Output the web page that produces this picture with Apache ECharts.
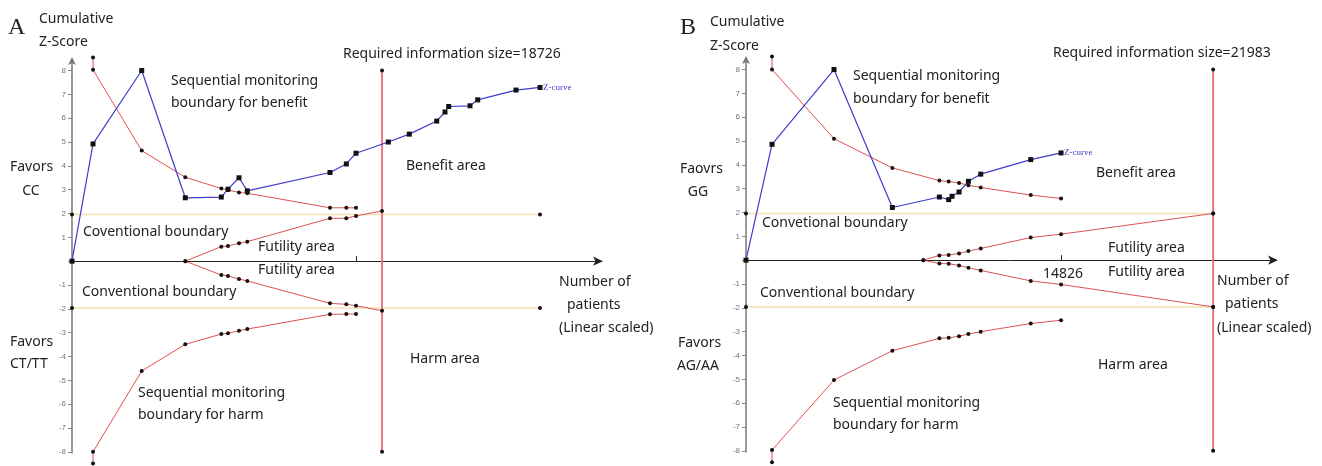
<!DOCTYPE html>
<html>
<head>
<meta charset="utf-8">
<script src="https://cdn.jsdelivr.net/npm/echarts@6/dist/echarts.min.js"></script>
<style>
  html, body { margin: 0; padding: 0; background: #fff; }
  #chart { width: 1322px; height: 466px; }
</style>
</head>
<body>
<div id="chart"></div>
<script>
// ---- panel A (CC vs CT/TT), x = number of patients, y = cumulative Z ----
var risA = 18726;
var zCurveA = [[0, 0], [1270, 4.92], [4210, 8.0], [6843, 2.66], [9018, 2.69], [9422, 3.02], [10087, 3.5], [10588, 2.95],
  [15583, 3.72], [16568, 4.08], [17154, 4.53], [19105, 5.0], [20373, 5.33], [22028, 5.88], [22529, 6.26], [22752, 6.49],
  [24039, 6.52], [24504, 6.77], [26818, 7.18], [28267, 7.29]];
var benefitA = [[1270, 8.55], [1270, 8.03], [4210, 4.64], [6843, 3.52], [9018, 3.05], [9422, 2.99], [10087, 2.88],
  [10588, 2.85], [15583, 2.24], [16568, 2.24], [17154, 2.24]];
var harmA = [[1270, -8.49], [1270, -8.0], [4210, -4.61], [6843, -3.49], [9018, -3.06], [9422, -3.03], [10087, -2.92],
  [10588, -2.85], [15583, -2.23], [16568, -2.22], [17154, -2.22]];
var futUpA = [[6843, 0], [9018, 0.61], [9422, 0.64], [10087, 0.75], [10588, 0.82], [15583, 1.80], [16568, 1.80],
  [17154, 1.90], [18726, 2.11]];
var futLowA = [[6843, 0], [9018, -0.58], [9422, -0.62], [10087, -0.75], [10588, -0.83], [15583, -1.77], [16568, -1.81],
  [17154, -1.87], [18726, -2.08]];
var convUpA = [[0, 1.96], [28267, 1.96]];
var convLowA = [[0, -1.96], [28267, -1.96]];
var tickA = [17154];

// ---- panel B (GG vs AG/AA) ----
var risB = 21983;
var zCurveB = [[0, 0], [1224, 4.86], [4142, 8.0], [6888, 2.21], [9100, 2.65], [9539, 2.54], [9696, 2.68], [10026, 2.86],
  [10466, 3.31], [11046, 3.61], [13400, 4.22], [14826, 4.5]];
var benefitB = [[1224, 8.55], [1224, 8.0], [4142, 5.1], [6888, 3.87], [9100, 3.34], [9539, 3.30], [10026, 3.24],
  [10466, 3.14], [11046, 3.05], [13400, 2.73], [14826, 2.59]];
var harmB = [[1224, -8.48], [1224, -7.97], [4142, -5.03], [6888, -3.80], [9100, -3.28], [9539, -3.26], [10026, -3.19],
  [10466, -3.10], [11046, -3.0], [13400, -2.66], [14826, -2.52]];
var futUpB = [[8347, 0], [9100, 0.2], [9539, 0.22], [10026, 0.28], [10466, 0.38], [11046, 0.49], [13400, 0.95],
  [14826, 1.09], [21983, 1.96]];
var futLowB = [[8347, 0], [9100, -0.14], [9539, -0.15], [10026, -0.22], [10466, -0.32], [11046, -0.43], [13400, -0.87],
  [14826, -1.02], [21983, -1.96]];
var convUpB = [[0, 1.96], [21983, 1.96]];
var convLowB = [[0, -1.96], [21983, -1.96]];
var tickB = [14826];

var yTicks = [-8, -7, -6, -5, -4, -3, -2, -1, 0, 1, 2, 3, 4, 5, 6, 7, 8];
var yMin = -8.05, yMax = 8.4;

var RED = "#e0504f";
var BLUE = "#3d3dcc";
var RIS_RED = "#ea6a7c";
var CONV = "#f6dfb2";
var FONT = "Noto Sans";

function yAxisOpt(idx) {
  return {
    type: "value",
    gridIndex: idx,
    min: yMin,
    max: yMax,
    splitLine: { show: false },
    axisLine: {
      show: true,
      onZero: false,
      symbol: ["none", "arrow"],
      symbolSize: [6, 8],
      symbolOffset: [0, 4],
      lineStyle: { color: "#777", width: 1.5 }
    },
    axisTick: { show: true, customValues: yTicks, length: 4, lineStyle: { color: "#888" } },
    axisLabel: {
      customValues: yTicks,
      fontSize: 8,
      color: "#777",
      margin: 6,
      formatter: function (v) { return v === 0 ? "" : String(v); }
    }
  };
}

// x axis sits on Z = 0: shift it up from the grid bottom by the height of the negative part
function xAxisOpt(idx, max, ticks, gridH) {
  return {
    type: "value",
    gridIndex: idx,
    min: 0,
    max: max,
    position: "bottom",
    offset: -gridH * (0 - yMin) / (yMax - yMin),
    splitLine: { show: false },
    axisLine: {
      show: true,
      onZero: false,
      symbol: ["none", "arrow"],
      symbolSize: [7, 10],
      symbolOffset: [0, 5],
      lineStyle: { color: "#222", width: 1 }
    },
    axisTick: { show: true, inside: true, length: 5, customValues: ticks, lineStyle: { color: "#222" } },
    axisLabel: { show: false }
  };
}

function redLine(data, idx) {
  return {
    type: "line", xAxisIndex: idx, yAxisIndex: idx, data: data, clip: false,
    symbol: "circle", symbolSize: 4, showSymbol: true,
    itemStyle: { color: "#111" },
    lineStyle: { color: RED, width: 1 },
    animation: false, z: 3
  };
}
function zLine(data, idx) {
  return {
    type: "line", xAxisIndex: idx, yAxisIndex: idx, data: data, clip: false,
    symbol: "rect", symbolSize: 5, showSymbol: true,
    itemStyle: { color: "#111" },
    lineStyle: { color: BLUE, width: 1.2 },
    animation: false, z: 4
  };
}
function convLine(data, idx) {
  return {
    type: "line", xAxisIndex: idx, yAxisIndex: idx, data: data, clip: false,
    symbol: "circle", symbolSize: 4,
    itemStyle: { color: "#111" },
    lineStyle: { color: CONV, width: 1.5 },
    animation: false, z: 2
  };
}
function risLine(x, idx) {
  return {
    type: "line", xAxisIndex: idx, yAxisIndex: idx, data: [[x, 8], [x, -8]], clip: false,
    symbol: "circle", symbolSize: 4,
    itemStyle: { color: "#111" },
    lineStyle: { color: RIS_RED, width: 1.8 },
    animation: false, z: 2
  };
}

function txt(s, x, y, o) {
  o = o || {};
  return {
    type: "text", x: x, y: y, z: 10,
    style: {
      text: s,
      fill: o.fill || "#222",
      font: o.font || ("14px '" + FONT + "'"),
      textAlign: o.align || "left",
      verticalAlign: "middle"
    }
  };
}

var chart = echarts.init(document.getElementById("chart"));
chart.setOption({
  backgroundColor: "#fff",
  animation: false,
  grid: [
    { left: 72, right: 724, top: 61, bottom: 13, containLabel: false },
    { left: 746, right: 49, top: 60, bottom: 14, containLabel: false }
  ],
  xAxis: [xAxisOpt(0, 31770, tickA, 466 - 61 - 13), xAxisOpt(1, 24800, tickB, 466 - 60 - 14)],
  yAxis: [yAxisOpt(0), yAxisOpt(1)],
  series: [
    convLine(convUpA, 0), convLine(convLowA, 0), risLine(risA, 0),
    redLine(benefitA, 0), redLine(harmA, 0), redLine(futUpA, 0), redLine(futLowA, 0),
    zLine(zCurveA, 0),
    convLine(convUpB, 1), convLine(convLowB, 1), risLine(risB, 1),
    redLine(benefitB, 1), redLine(harmB, 1), redLine(futUpB, 1), redLine(futLowB, 1),
    zLine(zCurveB, 1)
  ],
  graphic: [
    // panel A
    txt("A", 8, 28, { font: "24px 'Liberation Serif'" }),
    txt("Cumulative", 39, 19),
    txt("Z-Score", 39, 42),
    txt("Sequential monitoring", 171, 81),
    txt("boundary for benefit", 171, 103),
    txt("Required information size=" + risA, 343, 54),
    txt("Z-curve", 543, 88, { font: "9px 'Liberation Serif'", fill: BLUE }),
    txt("Benefit area", 406, 166),
    txt("Favors", 10, 167),
    txt("CC", 31, 191, { align: "center" }),
    txt("Coventional boundary", 83, 232),
    txt("Futility area", 258, 247),
    txt("Futility area", 258, 270),
    txt("Conventional boundary", 82, 292),
    txt("Favors", 10, 342),
    txt("CT/TT", 10, 364),
    txt("Number of", 559, 282),
    txt("patients", 567, 305),
    txt("(Linear scaled)", 559, 328),
    txt("Harm area", 410, 359),
    txt("Sequential monitoring", 138, 393),
    txt("boundary for harm", 138, 415),
    // panel B
    txt("B", 680, 28, { font: "24px 'Liberation Serif'" }),
    txt("Cumulative", 710, 22),
    txt("Z-Score", 710, 46),
    txt("Sequential monitoring", 853, 76),
    txt("boundary for benefit", 853, 99),
    txt("Required information size=" + risB, 1053, 53),
    txt("Z-curve", 1064, 153, { font: "9px 'Liberation Serif'", fill: BLUE }),
    txt("Benefit area", 1096, 173),
    txt("Faovrs", 680, 169),
    txt("GG", 698, 192, { align: "center" }),
    txt("Convetional boundary", 762, 223),
    txt("Futility area", 1108, 248),
    txt("Futility area", 1108, 272),
    txt(String(tickB[0]), 1063, 274, { align: "center" }),
    txt("Conventional boundary", 760, 293),
    txt("Favors", 678, 343),
    txt("AG/AA", 677, 366),
    txt("Number of", 1217, 281),
    txt("patients", 1225, 304),
    txt("(Linear scaled)", 1217, 328),
    txt("Harm area", 1098, 365),
    txt("Sequential monitoring", 833, 403),
    txt("boundary for harm", 833, 425)
  ]
});
</script>
</body>
</html>
